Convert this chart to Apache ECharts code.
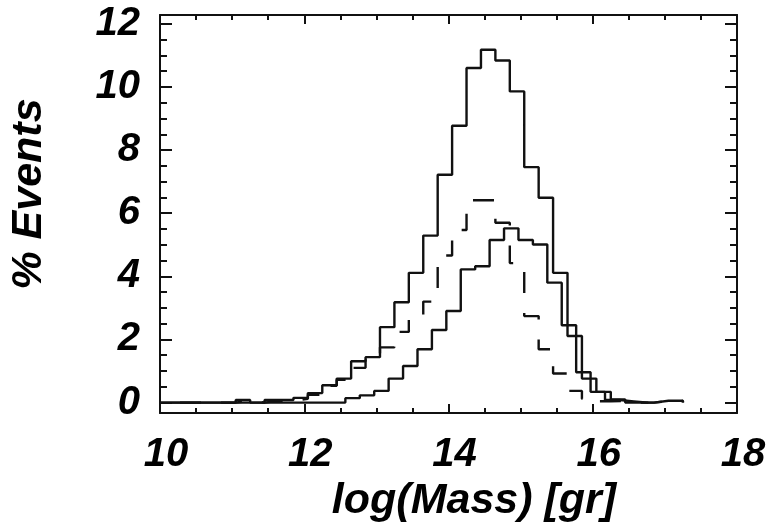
<!DOCTYPE html>
<html>
<head>
<meta charset="utf-8">
<script src="https://cdn.jsdelivr.net/npm/echarts@6/dist/echarts.min.js"></script>
<style>
  html, body { margin: 0; padding: 0; background: #fff; }
  #chart { width: 773px; height: 531px; }
</style>
</head>
<body>
<div id="chart"></div>
<script>
// ---- data ----
// bin left edges (log mass) for the outer solid and dashed histograms
const edgesAB = [11.05, 11.25, 11.45, 11.65, 11.85, 12.05, 12.25, 12.45, 12.65, 12.85,
                 13.05, 13.25, 13.45, 13.65, 13.85, 14.05, 14.25, 14.45, 14.65, 14.85,
                 15.05, 15.25, 15.45, 15.65, 15.85, 16.05, 16.25, 16.45, 16.65, 16.85,
                 17.05, 17.25];
const totalPct = [0.08, 0, 0.08, 0.08, 0.15, 0.30, 0.55, 0.76, 1.31, 1.44,
                  2.39, 3.18, 4.11, 5.29, 7.22, 8.77, 10.60, 11.18, 10.84, 9.86,
                  7.46, 6.49, 4.11, 2.11, 0.76, 0.34, 0.10, 0, 0, 0.06, 0.06];
const dashedPct = [0.06, 0, 0.06, 0.06, 0.12, 0.25, 0.53, 0.72, 1.10, 1.35,
                   1.75, 2.24, 2.78, 3.20, 4.66, 5.47, 6.41, 6.41, 5.70, 4.42,
                   2.74, 1.69, 0.92, 0.37, 0.12, 0.04, 0.05, 0, 0, 0.05, 0.05];
// bin left edges for the lower solid histogram
const edgesC = [12.57, 12.77, 12.97, 13.17, 13.37, 13.57, 13.77, 13.97, 14.17, 14.37,
                14.57, 14.77, 14.97, 15.17, 15.37, 15.57, 15.77, 15.97, 16.17, 16.37,
                16.57, 16.77];
const lowerPct = [0.14, 0.23, 0.37, 0.76, 1.16, 1.69, 2.30, 2.90, 4.22, 4.32,
                  5.15, 5.52, 5.15, 5.01, 3.80, 2.45, 0.96, 0.34, 0.08, 0.04, 0];

const xTicks = [10, 12, 14, 16, 18];
const yTicks = [0, 2, 4, 6, 8, 10, 12];
const yMinorTicks = [0.5, 1, 1.5, 2.5, 3, 3.5, 4.5, 5, 5.5, 6.5, 7, 7.5, 8.5, 9, 9.5, 10.5, 11, 11.5];
const xTitle = 'log(Mass) [gr]';
const yTitle = '% Events';
const xStart = 10;

// ---- build step-line points ----
function histPoints(edges, vals) {
  const pts = [[xStart, 0]];
  for (let i = 0; i < vals.length; i++) pts.push([edges[i], vals[i]]);
  pts.push([edges[vals.length], 0]);
  return pts;
}

const FONT = "'Liberation Sans', Arial, Helvetica, sans-serif";
const INK = '#111';
const LW = 2.4;
const labelStyle = { fontFamily: FONT, fontWeight: 'bold', fontStyle: 'italic', fontSize: 40, color: '#000' };

const yBase = { type: 'value', min: -0.33, max: 12.28, gridIndex: 0, splitLine: { show: false } };
const xBase = { type: 'value', min: 10, max: 18, interval: 2, gridIndex: 0, splitLine: { show: false } };

const chart = echarts.init(document.getElementById('chart'), null, { renderer: 'canvas' });
chart.setOption({
  animation: false,
  backgroundColor: '#fff',
  grid: { left: 160, top: 15, width: 577, height: 398 },
  xAxis: [
    Object.assign({}, xBase, {
      position: 'bottom',
      axisLine: { show: true, onZero: false, lineStyle: { color: INK, width: 2 } },
      axisTick: { show: true, inside: true, length: 9, lineStyle: { color: INK, width: 2 } },
      minorTick: { show: true, splitNumber: 4, length: 5, lineStyle: { color: INK, width: 2 } },
      axisLabel: Object.assign({ margin: 22, padding: [0, 0, 0, 12], customValues: xTicks, formatter: v => String(v) }, labelStyle)
    }),
    Object.assign({}, xBase, {
      position: 'top',
      axisLine: { show: true, onZero: false, lineStyle: { color: INK, width: 2 } },
      axisTick: { show: true, inside: true, length: 9, lineStyle: { color: INK, width: 2 } },
      minorTick: { show: true, splitNumber: 4, length: 5, lineStyle: { color: INK, width: 2 } },
      axisLabel: { show: false }
    })
  ],
  yAxis: [
    Object.assign({}, yBase, {
      position: 'left',
      axisLine: { show: true, onZero: false, lineStyle: { color: INK, width: 2 } },
      axisTick: { show: true, inside: true, length: 12, customValues: yTicks, lineStyle: { color: INK, width: 2 } },
      axisLabel: Object.assign({ margin: 20, customValues: yTicks, formatter: v => String(v) }, labelStyle)
    }),
    Object.assign({}, yBase, {
      position: 'left',
      axisLine: { show: false },
      axisTick: { show: true, inside: true, length: 7, customValues: yMinorTicks, lineStyle: { color: INK, width: 2 } },
      axisLabel: { show: false }
    }),
    Object.assign({}, yBase, {
      position: 'right',
      axisLine: { show: true, onZero: false, lineStyle: { color: INK, width: 2 } },
      axisTick: { show: true, inside: true, length: 12, customValues: yTicks, lineStyle: { color: INK, width: 2 } },
      axisLabel: { show: false }
    }),
    Object.assign({}, yBase, {
      position: 'right',
      axisLine: { show: false },
      axisTick: { show: true, inside: true, length: 7, customValues: yMinorTicks, lineStyle: { color: INK, width: 2 } },
      axisLabel: { show: false }
    })
  ],
  graphic: [
    { type: 'text', x: 474, y: 501, style: { text: xTitle, align: 'center', verticalAlign: 'middle',
      font: "italic bold 43px 'Liberation Sans', Arial, sans-serif", fill: '#000' } },
    { type: 'text', x: 29, y: 194, rotation: Math.PI / 2, style: { text: yTitle, align: 'center', verticalAlign: 'middle',
      font: "italic bold 43px 'Liberation Sans', Arial, sans-serif", fill: '#000' } }
  ],
  series: [
    { type: 'line', step: 'end', symbol: 'none', data: histPoints(edgesAB, totalPct),
      lineStyle: { color: INK, width: LW } },
    { type: 'line', step: 'end', symbol: 'none', data: histPoints(edgesAB, dashedPct),
      lineStyle: { color: INK, width: LW, type: [21, 20], dashOffset: 21 } },
    { type: 'line', step: 'end', symbol: 'none', data: histPoints(edgesC, lowerPct),
      lineStyle: { color: INK, width: LW } }
  ]
});
</script>
</body>
</html>
